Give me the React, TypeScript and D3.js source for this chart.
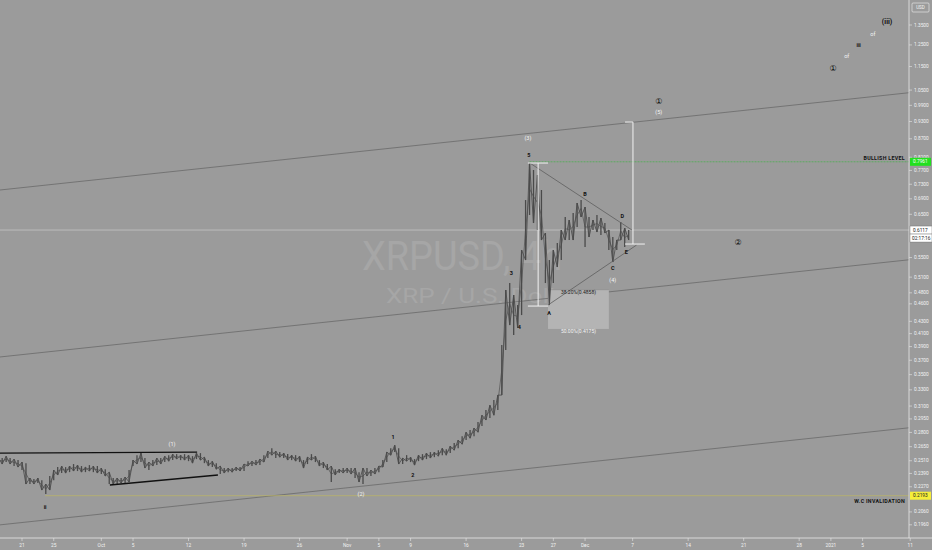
import * as d3 from "d3";
import React from "react";

// 12h bars starting Sep 18 2020 00:00 UTC
const barStart = "2020-09-18T00:00:00Z";
const barHigh = [
  0.2545, 0.2536, 0.2555, 0.2536, 0.2526, 0.2516, 0.2497, 0.2487, 0.2348, 0.2339,
  0.2348, 0.2329, 0.2294, 0.2366, 0.2421, 0.2449, 0.2459, 0.2449, 0.2459, 0.2478,
  0.2468, 0.2459, 0.2449, 0.2468, 0.2459, 0.2459, 0.2440, 0.2430, 0.2402, 0.2348,
  0.2348, 0.2348, 0.2357, 0.2421, 0.2516, 0.2565, 0.2585, 0.2536, 0.2497, 0.2516,
  0.2536, 0.2536, 0.2555, 0.2565, 0.2575, 0.2575, 0.2565, 0.2575, 0.2565, 0.2555,
  0.2585, 0.2585, 0.2545, 0.2516, 0.2506, 0.2487, 0.2459, 0.2440, 0.2440, 0.2440,
  0.2449, 0.2449, 0.2478, 0.2506, 0.2506, 0.2516, 0.2526, 0.2565, 0.2605, 0.2635,
  0.2605, 0.2595, 0.2585, 0.2575, 0.2565, 0.2565, 0.2555, 0.2516, 0.2545, 0.2575,
  0.2555, 0.2516, 0.2497, 0.2478, 0.2459, 0.2430, 0.2430, 0.2440, 0.2440, 0.2440,
  0.2440, 0.2402, 0.2440, 0.2440, 0.2421, 0.2440, 0.2459, 0.2516, 0.2595, 0.2635,
  0.2666, 0.2635, 0.2536, 0.2565, 0.2545, 0.2526, 0.2565, 0.2575, 0.2585, 0.2595,
  0.2595, 0.2615, 0.2635, 0.2625, 0.2656, 0.2687, 0.2718, 0.2760, 0.2803, 0.2825,
  0.2847, 0.2914, 0.2993, 0.3052, 0.3111, 0.3173, 0.3234, 0.3924, 0.4852, 0.4985,
  0.4759, 0.4579, 0.5662, 0.6868, 0.7923, 0.7712, 0.7564, 0.7140, 0.6047, 0.5448,
  0.5662, 0.5817, 0.6117, 0.6432, 0.6358, 0.6532, 0.6789, 0.6868, 0.6685, 0.6432,
  0.6358, 0.6482, 0.6407, 0.6285, 0.6117, 0.5954, 0.5885, 0.6309, 0.6164, 0.6117,
];
const barLow = [
  0.2487, 0.2478, 0.2497, 0.2478, 0.2459, 0.2449, 0.2421, 0.2294, 0.2294, 0.2294,
  0.2303, 0.2241, 0.2207, 0.2241, 0.2329, 0.2375, 0.2393, 0.2393, 0.2402, 0.2412,
  0.2412, 0.2402, 0.2402, 0.2412, 0.2402, 0.2393, 0.2384, 0.2366, 0.2294, 0.2294,
  0.2294, 0.2303, 0.2303, 0.2312, 0.2459, 0.2478, 0.2497, 0.2440, 0.2421, 0.2459,
  0.2468, 0.2478, 0.2497, 0.2506, 0.2516, 0.2526, 0.2516, 0.2516, 0.2506, 0.2487,
  0.2526, 0.2516, 0.2487, 0.2459, 0.2449, 0.2430, 0.2384, 0.2393, 0.2402, 0.2402,
  0.2412, 0.2412, 0.2412, 0.2459, 0.2459, 0.2468, 0.2468, 0.2497, 0.2536, 0.2565,
  0.2536, 0.2545, 0.2536, 0.2516, 0.2516, 0.2506, 0.2497, 0.2440, 0.2478, 0.2516,
  0.2497, 0.2459, 0.2440, 0.2421, 0.2312, 0.2375, 0.2393, 0.2393, 0.2393, 0.2384,
  0.2348, 0.2312, 0.2294, 0.2366, 0.2366, 0.2384, 0.2402, 0.2449, 0.2497, 0.2565,
  0.2595, 0.2478, 0.2478, 0.2506, 0.2497, 0.2468, 0.2506, 0.2516, 0.2526, 0.2536,
  0.2545, 0.2555, 0.2565, 0.2565, 0.2585, 0.2615, 0.2635, 0.2676, 0.2718, 0.2739,
  0.2760, 0.2803, 0.2869, 0.2937, 0.2959, 0.2993, 0.3052, 0.3234, 0.3848, 0.4238,
  0.4078, 0.4190, 0.4405, 0.5448, 0.6482, 0.6285, 0.6117, 0.5885, 0.4985, 0.4579,
  0.4985, 0.5303, 0.5448, 0.5885, 0.5885, 0.5885, 0.6188, 0.6432, 0.5729, 0.5954,
  0.6117, 0.6070, 0.6000, 0.6047, 0.5662, 0.5406, 0.5662, 0.5885, 0.5729, 0.5885,
];

const lastPrice = 0.6117;
const countdown = "02:17:16";
const bullishLevel = 0.7961;
const invalidLevel = 0.2193;

const priceTicks = [
  1.35, 1.25, 1.15, 1.05, 0.99, 0.93, 0.87, 0.81, 0.77, 0.73, 0.69, 0.65, 0.55,
  0.51, 0.48, 0.46, 0.43, 0.41, 0.39, 0.37, 0.35, 0.33, 0.31, 0.295, 0.28, 0.265,
  0.251, 0.239, 0.227, 0.206, 0.196,
];
const timeTicks = [
  "2020-09-21", "2020-09-25", "2020-10-01", "2020-10-05", "2020-10-12", "2020-10-19",
  "2020-10-26", "2020-11-01", "2020-11-05", "2020-11-09", "2020-11-16", "2020-11-23",
  "2020-11-27", "2020-12-01", "2020-12-07", "2020-12-14", "2020-12-21", "2020-12-28",
  "2021-01-01", "2021-01-05", "2021-01-11",
];
const timeLabels = [
  "21", "25", "Oct", "5", "12", "19", "26", "Nov", "5", "9", "16", "23", "27", "Dec",
  "7", "14", "21", "28", "2021", "5", "11",
];

// parallel channel: [start date, end date], prices at both ends
const channelDates = ["2020-09-18T00:00Z", "2021-01-11T00:00Z"];
const channelUpper = [0.7134, 1.0399];
const channelMid = [0.3744, 0.5456];
const channelLow = [0.1958, 0.2852];

// early triangle (black)
const triUpper: [string, number][] = [["2020-09-18T00:00Z", 0.2585], ["2020-10-13T02:00Z", 0.2595]];
const triLower: [string, number][] = [["2020-10-02T02:00Z", 0.2285], ["2020-10-15T17:00Z", 0.2375]];
// ABCDE triangle
const abcdeUpper: [string, number][] = [["2020-11-24T01:00Z", 0.7923], ["2020-12-06T22:00Z", 0.6117]];
const abcdeLower: [string, number][] = [["2020-11-26T08:00Z", 0.4579], ["2020-12-07T12:00Z", 0.5773]];

// measure tools: [date, top, bottom, capTopFrom, capTopTo, capBotFrom, capBotTo]
const measures: [string, number, number, string, string, string, string][] = [
  ["2020-11-25T02:00Z", 0.7923, 0.4561, "2020-11-23T19:00Z", "2020-11-26T08:00Z", "2020-11-23T19:00Z", "2020-11-26T08:00Z"],
  ["2020-12-07T01:00Z", 0.9281, 0.5795, "2020-12-06T01:00Z", "2020-12-07T01:00Z", "2020-12-06T01:00Z", "2020-12-08T13:00Z"],
];

const fibDates = ["2020-11-26T08:00Z", "2020-12-04T00:00Z"];
const fibLevels = [0.4858, 0.4175];
const fibNames = ["38.20%(0.4858)", "50.00%(0.4175)"];

const bullishFrom = "2020-11-24T00:00Z";
const invalidFrom = "2020-09-23T22:00Z";

const blackLabels: [string, string, number][] = [
  ["ii", "2020-09-23T22:00Z", 0.2099],
  ["1", "2020-11-06T19:00Z", 0.275],
  ["2", "2020-11-09T07:00Z", 0.2375],
  ["3", "2020-11-21T17:00Z", 0.5183],
  ["4", "2020-11-22T17:00Z", 0.4206],
  ["5", "2020-11-23T22:00Z", 0.8171],
  ["A", "2020-11-26T11:00Z", 0.444],
  ["B", "2020-12-01T00:00Z", 0.7029],
  ["C", "2020-12-04T12:00Z", 0.5282],
  ["D", "2020-12-05T17:00Z", 0.6457],
  ["E", "2020-12-06T05:00Z", 0.5619],
  ["iii", "2021-01-04T12:00Z", 1.25],
];
const whiteLabels: [string, string, number][] = [
  ["(1)", "2020-10-09T22:00Z", 0.2676],
  ["(2)", "2020-11-02T18:00Z", 0.2207],
  ["(3)", "2020-11-23T19:00Z", 0.8726],
  ["(4)", "2020-12-04T12:00Z", 0.5043],
  ["(5)", "2020-12-10T07:00Z", 0.9647],
  ["of", "2021-01-03T00:00Z", 1.1973],
  ["of", "2021-01-06T07:00Z", 1.304],
];
const circledLabels: [string, string, number][] = [
  ["①", "2020-12-10T07:00Z", 1.0066],
  ["②", "2020-12-20T07:00Z", 0.584],
  ["①", "2021-01-01T07:00Z", 1.1395],
];
const bigLabels: [string, string, number][] = [["(iii)", "2021-01-08T02:00Z", 1.3654]];

const W = 932, H = 550;
const AX = 909, AY = 538;
const BG = "#9b9b9b";
const FONT = "Roboto, 'DejaVu Sans', sans-serif";

export default function App() {
  const x = d3.scaleUtc()
    .domain([new Date("2020-09-21T00:00Z"), new Date("2021-01-11T00:00Z")])
    .range([22, 910.2]);
  const y = d3.scaleLog().domain([0.196, 1.05]).range([524.8, 90.1]);
  const d = (s: string) => new Date(s);
  const t0 = new Date(barStart).getTime();
  const bars = barHigh.map((h, i) => ({ t: new Date(t0 + i * 12 * 3600e3), h, l: barLow[i] }));

  // connecting path through each bar's range, alternating high/low edges
  const zig = d3.line<{ t: Date; h: number; l: number }>()
    .x((b) => x(b.t))
    .y((b, i) => y(i % 2 ? b.l : b.h))(bars) ?? "";
  const mid = d3.line<{ t: Date; h: number; l: number }>()
    .x((b) => x(b.t))
    .y((b) => y(Math.sqrt(b.h * b.l)))(bars) ?? "";

  const seg = (p: [string, number][], stroke: string, w: number, key: string) => (
    <line key={key} x1={x(d(p[0][0]))} y1={y(p[0][1])} x2={x(d(p[1][0]))} y2={y(p[1][1])}
      stroke={stroke} strokeWidth={w} />
  );
  const channel = (pr: number[], key: string) =>
    seg([[channelDates[0], pr[0]], [channelDates[1], pr[1]]], "#6a6a6a", 0.8, key);

  return (
    <svg width={W} height={H} style={{ position: "absolute", left: 0, top: 0, fontFamily: FONT }}>
      <defs>
        <clipPath id="plot"><rect x={0} y={0} width={AX} height={AY} /></clipPath>
      </defs>
      <rect width={W} height={H} fill={BG} />

      {/* watermark */}
      <text x={362} y={270} fontSize={40} fill="#a6a6a6" textLength={200} lengthAdjust="spacingAndGlyphs">XRPUSD, 4h</text>
      <text x={386} y={303} fontSize={20} fill="#a6a6a6" textLength={192} lengthAdjust="spacingAndGlyphs">XRP / U.S. Dollar</text>

      <g clipPath="url(#plot)">
        {channel(channelUpper, "cu")}
        {channel(channelMid, "cm")}
        {channel(channelLow, "cl")}

        {/* last price line */}
        <line x1={0} x2={AX} y1={y(lastPrice)} y2={y(lastPrice)} stroke="#c4c4c4" strokeWidth={0.8} />

        {/* levels */}
        <line x1={x(d(bullishFrom))} x2={AX} y1={y(bullishLevel)} y2={y(bullishLevel)}
          stroke="#4caf50" strokeWidth={0.8} strokeDasharray="2 1" />
        <line x1={x(d(invalidFrom))} x2={AX} y1={y(invalidLevel)} y2={y(invalidLevel)}
          stroke="#b9b46a" strokeWidth={0.8} />

        {/* fib box */}
        <rect x={x(d(fibDates[0]))} y={y(fibLevels[0])} width={x(d(fibDates[1])) - x(d(fibDates[0]))}
          height={y(fibLevels[1]) - y(fibLevels[0])} fill="#b4b4b4" />
        <line x1={x(d(fibDates[0]))} x2={x(d(fibDates[1]))} y1={y(fibLevels[0])} y2={y(fibLevels[0])}
          stroke="#8a8a8a" strokeWidth={0.6} />

        {/* bars */}
        <path d={zig} fill="none" stroke="#505050" strokeWidth={0.9} />
        <path d={mid} fill="none" stroke="#505050" strokeWidth={0.7} />
        {bars.map((b, i) => (
          <line key={i} x1={x(b.t)} x2={x(b.t)} y1={y(b.h)} y2={y(b.l)} stroke="#4a4a4a" strokeWidth={1.3} />
        ))}

        {/* triangles */}
        {seg(triUpper, "#111", 1.4, "tu")}
        {seg(triLower, "#111", 1.4, "tl")}
        {seg(abcdeUpper, "#5e5e5e", 0.8, "au")}
        {seg(abcdeLower, "#5e5e5e", 0.8, "al")}

        {/* measures */}
        {measures.map((m, i) => (
          <g key={i} stroke="#f2f2f2" strokeWidth={1}>
            <line x1={x(d(m[0]))} x2={x(d(m[0]))} y1={y(m[1])} y2={y(m[2])} />
            <line x1={x(d(m[3]))} x2={x(d(m[4]))} y1={y(m[1])} y2={y(m[1])} />
            <line x1={x(d(m[5]))} x2={x(d(m[6]))} y1={y(m[2])} y2={y(m[2])} />
          </g>
        ))}

        {fibNames.map((n, i) => (
          <text key={n} x={(x(d(fibDates[0])) + x(d(fibDates[1]))) / 2} y={y(fibLevels[i]) + 2.5}
            fontSize={5} textAnchor="middle" dominantBaseline="central" fill={i === 0 ? "#222" : "#f4f4f4"}>{n}</text>
        ))}

        {/* wave labels */}
        {blackLabels.map(([t, dt, p], i) => (
          <text key={"b" + i} x={x(d(dt))} y={y(p)} fontSize={5.5} fontWeight="bold" fill="#111"
            textAnchor="middle" dominantBaseline="central">{t}</text>
        ))}
        {whiteLabels.map(([t, dt, p], i) => (
          <text key={"w" + i} x={x(d(dt))} y={y(p)} fontSize={5.5} fill="#f4f4f4"
            textAnchor="middle" dominantBaseline="central">{t}</text>
        ))}
        {circledLabels.map(([t, dt, p], i) => (
          <text key={"c" + i} x={x(d(dt))} y={y(p)} fontSize={8} fill="#111" fontFamily="'DejaVu Sans'"
            textAnchor="middle" dominantBaseline="central">{t}</text>
        ))}
        {bigLabels.map(([t, dt, p], i) => (
          <text key={"g" + i} x={x(d(dt))} y={y(p)} fontSize={7} fontWeight="bold" fill="#111"
            textAnchor="middle" dominantBaseline="central">{t}</text>
        ))}

        <text x={905} y={y(bullishLevel) - 4} fontSize={5.3} fontWeight="bold" fill="#111"
          textAnchor="end" dominantBaseline="central" letterSpacing={0.3}>BULLISH LEVEL</text>
        <text x={905} y={y(invalidLevel) + 5.5} fontSize={5.3} fontWeight="bold" fill="#111"
          textAnchor="end" dominantBaseline="central" letterSpacing={0.3}>W.C INVALIDATION</text>
      </g>

      {/* axes */}
      <line x1={AX} x2={AX} y1={0} y2={AY} stroke="#e8e8e8" strokeWidth={0.8} />
      <line x1={0} x2={W} y1={AY} y2={AY} stroke="#e8e8e8" strokeWidth={0.8} />
      {priceTicks.map((p) => (
        <g key={p}>
          <line x1={AX} x2={AX + 3} y1={y(p)} y2={y(p)} stroke="#e8e8e8" strokeWidth={0.6} />
          <text x={AX + 5} y={y(p)} fontSize={4.8} fill="#f2f2f2" dominantBaseline="central">{p.toFixed(4)}</text>
        </g>
      ))}
      {timeTicks.map((t, i) => (
        <g key={t}>
          <line x1={x(d(t + "T00:00Z"))} x2={x(d(t + "T00:00Z"))} y1={AY} y2={AY + 3} stroke="#e8e8e8" strokeWidth={0.6} />
          <text x={x(d(t + "T00:00Z"))} y={AY + 7} fontSize={4.8} fill="#f2f2f2" textAnchor="middle"
            dominantBaseline="central">{timeLabels[i]}</text>
        </g>
      ))}

      {/* price badges */}
      <rect x={AX + 3} y={3} width={17} height={9} fill="none" stroke="#f2f2f2" strokeWidth={0.6} rx={1} />
      <text x={AX + 11.5} y={7.5} fontSize={4.6} fill="#f2f2f2" textAnchor="middle" dominantBaseline="central">USD</text>

      <rect x={AX + 1} y={y(bullishLevel) - 4} width={21} height={8} fill="#22e01e" />
      <text x={AX + 4} y={y(bullishLevel)} fontSize={4.8} fill="#fff" dominantBaseline="central">{bullishLevel.toFixed(4)}</text>

      <rect x={AX + 1} y={y(invalidLevel) - 4} width={21} height={8} fill="#f5ee3a" />
      <text x={AX + 4} y={y(invalidLevel)} fontSize={4.8} fill="#222" dominantBaseline="central">{invalidLevel.toFixed(4)}</text>

      <rect x={AX + 1} y={y(lastPrice) - 4} width={22} height={8} fill="#fff" stroke="#666" strokeWidth={0.4} />
      <text x={AX + 4} y={y(lastPrice)} fontSize={4.8} fill="#222" dominantBaseline="central">{lastPrice.toFixed(4)}</text>
      <rect x={AX + 1} y={y(lastPrice) + 4} width={22} height={8} fill="#fff" stroke="#666" strokeWidth={0.4} />
      <text x={AX + 3} y={y(lastPrice) + 8} fontSize={4.8} fill="#222" dominantBaseline="central">{countdown}</text>
    </svg>
  );
}
